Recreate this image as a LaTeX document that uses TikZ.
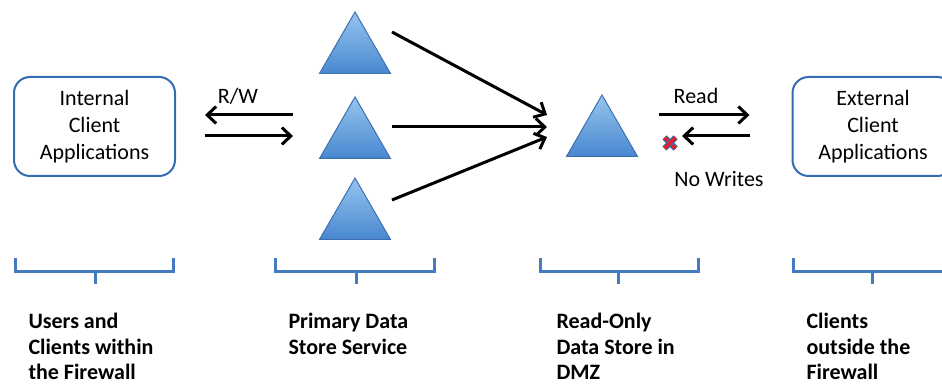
\documentclass[tikz,border=0pt]{standalone}
\usepackage{fontspec}
\setmainfont{Carlito}
\usetikzlibrary{calc}
\usetikzlibrary{arrows.meta}
\usetikzlibrary{shapes.geometric}
\definecolor{boxblue}{RGB}{52,108,178}
\definecolor{spanblue}{RGB}{70,122,192}
\definecolor{storeedge}{RGB}{62,112,176}
\definecolor{storetop}{RGB}{150,196,238}
\definecolor{storebottom}{RGB}{72,136,208}
\definecolor{crossred}{RGB}{230,30,40}

\begin{document}
\begin{tikzpicture}[->,>={Straight Barb[length=9pt,width=17pt]},line width=3pt,x=1pt,y=1pt]
\tikzset{store/.style={regular polygon,regular polygon sides=3,minimum size=82pt,inner sep=0,draw=storeedge,line width=1pt,top color=storetop,bottom color=storebottom}}
\tikzset{client/.style={draw=boxblue,line width=2pt,rounded corners=16pt,minimum width=161pt,minimum height=99pt,align=center,font=\fontsize{22}{27}\selectfont}}
\tikzset{lbl/.style={font=\fontsize{22}{26}\selectfont}}
\tikzset{group/.style={anchor=north west,align=left,inner sep=0,font=\fontsize{22}{25.5}\selectfont\bfseries}}
\tikzset{span/.style={-,draw=spanblue,line width=3pt}}
\tikzset{nox/.style={-,draw=boxblue,double=crossred,double distance=3.4pt,line width=1.3pt}}

\useasboundingbox (0,0) rectangle (942,385);

% clients on both sides
\node[client] (internal) at (94.5,258.5) {Internal\\Client\\Applications};
\node[client] (external) at (873,258.5) {External\\Client\\Applications};

% data stores
\node[store] (p1) at (355,332) {};
\node[store] (p2) at (355,247) {};
\node[store] (p3) at (355,166) {};
\node[store] (dmz) at (602,249) {};

% replication into the DMZ
\draw ($(p1)+(37,21)$) -- ($(dmz)+(-55,21)$);
\draw ($(p2)+(37,11)$) -- ($(dmz)+(-55,9)$);
\draw ($(p3)+(37,19)$) -- ($(dmz)+(-55,-1)$);

% read / write inside
\draw ($(p2)+(-62,23)$) -- ($(internal.east)+(29,11.5)$);
\draw ($(internal.east)+(29,-9.5)$) -- ($(p2)+(-62,2)$);
\node[lbl] (rw) at (238,289) {R/W};

% read only outside
\draw ($(dmz)+(57,21)$) -- ($(external.west)+(-42,11.5)$);
\draw ($(external.west)+(-42,-9.5)$) -- ($(dmz)+(80,0)$);
\node[lbl] (read) at (696,289) {Read};
\node[lbl] (nowrites) at (719,206) {No Writes};

\coordinate (nowrite) at (670,242);
\draw[nox] ($(nowrite)+(-5.5,5.5)$) -- ($(nowrite)+(5.5,-5.5)$);
\draw[nox] ($(nowrite)+(-5.5,-5.5)$) -- ($(nowrite)+(5.5,5.5)$);

% braces under each column
\foreach \l/\r/\m in {15/173/95, 275/434/356, 540/698/618, 793/952/872}{
  \draw[span] (\l,127) -- (\l,113) -- (\r,113) -- (\r,127);
  \draw[span] (\m,113) -- (\m,101);
}

\node[group] (users) at (27,73) {Users and\\Clients within\\the Firewall};
\node[group] (primary) at (287,73) {Primary Data\\Store Service};
\node[group] (readonly) at (555,73) {Read-Only\\Data Store in\\DMZ};
\node[group] (outside) at (805,73) {Clients\\outside the\\Firewall};

\end{tikzpicture}
\end{document}
